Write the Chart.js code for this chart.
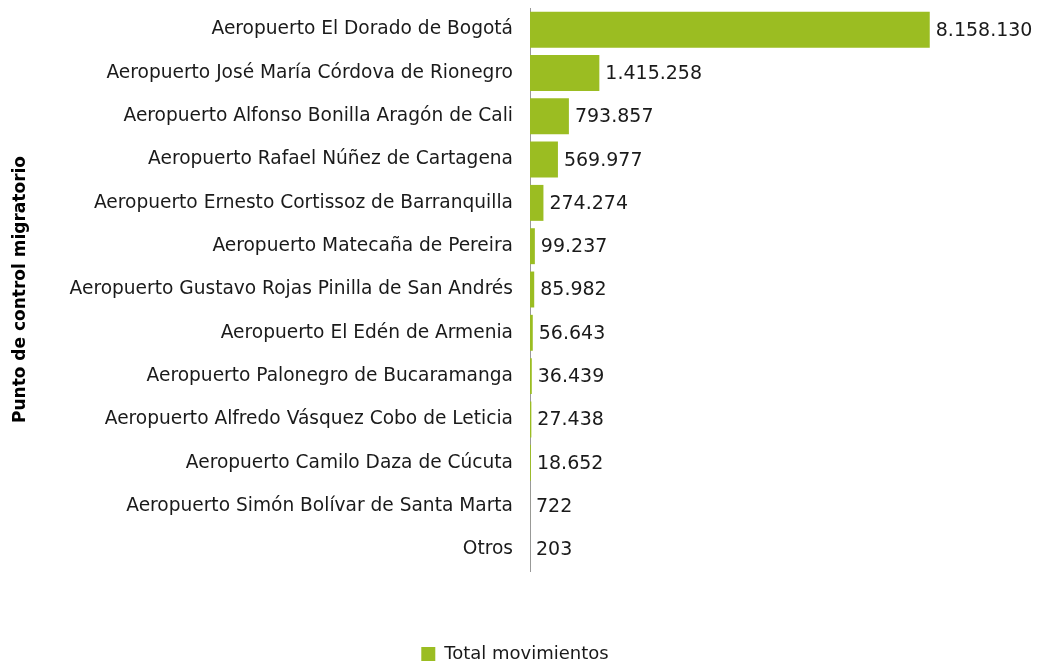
<!DOCTYPE html>
<html>
<head>
<meta charset="utf-8">
<script src="https://cdn.jsdelivr.net/npm/chart.js@4/dist/chart.umd.min.js"></script>
<style>
  html, body { margin: 0; padding: 0; background: #fff; }
  #wrap { width: 1041px; height: 663px; }
</style>
</head>
<body>
<div id="wrap"><canvas id="grafico"></canvas></div>
<script>
// puntos de control y movimientos
var puntos = [
  "Aeropuerto El Dorado de Bogotá",
  "Aeropuerto José María Córdova de Rionegro",
  "Aeropuerto Alfonso Bonilla Aragón de Cali",
  "Aeropuerto Rafael Núñez de Cartagena",
  "Aeropuerto Ernesto Cortissoz de Barranquilla",
  "Aeropuerto Matecaña de Pereira",
  "Aeropuerto Gustavo Rojas Pinilla de San Andrés",
  "Aeropuerto El Edén de Armenia",
  "Aeropuerto Palonegro de Bucaramanga",
  "Aeropuerto Alfredo Vásquez Cobo de Leticia",
  "Aeropuerto Camilo Daza de Cúcuta",
  "Aeropuerto Simón Bolívar de Santa Marta",
  "Otros"
];
var movimientos = [8158130, 1415258, 793857, 569977, 274274, 99237, 85982, 56643, 36439, 27438, 18652, 722, 203];
var serie = "Total movimientos";
var tituloEje = "Punto de control migratorio";

var fuente = "'DejaVu Sans', sans-serif";
var verde = "#9bbd22";

function miles(n) {
  return String(n).replace(/\B(?=(\d{3})+(?!\d))/g, ".");
}

// etiquetas de valor al final de cada barra
var etiquetas = {
  id: "etiquetas",
  afterLayout: function(chart) {
    // bajar un poco la leyenda
    chart.legend.top += 10;
    chart.legend.bottom += 10;
  },
  afterDatasetsDraw: function(chart) {
    var ctx = chart.ctx;
    var meta = chart.getDatasetMeta(0);
    ctx.save();
    ctx.font = "19px " + fuente;
    ctx.fillStyle = "#1a1a1a";
    ctx.textAlign = "left";
    ctx.textBaseline = "middle";
    meta.data.forEach(function(bar, i) {
      ctx.fillText(miles(movimientos[i]), bar.x + 6, bar.y + 1);
    });
    ctx.restore();
  }
};

var ctx = document.getElementById("grafico").getContext("2d");
new Chart(ctx, {
  type: "bar",
  data: {
    labels: puntos,
    datasets: [{
      label: serie,
      data: movimientos,
      backgroundColor: verde,
      borderWidth: 0,
      barPercentage: 0.83,
      categoryPercentage: 1
    }]
  },
  options: {
    indexAxis: "y",
    responsive: true,
    maintainAspectRatio: false,
    animation: false,
    layout: { padding: { top: 8, right: 21, left: 10, bottom: 0 } },
    scales: {
      x: {
        min: 0,
        max: 10000000,
        grid: { display: false, drawTicks: false },
        border: { display: false },
        ticks: { display: false },
        afterFit: function(s) { s.height = 64; }
      },
      y: {
        grid: { display: false, drawTicks: false },
        border: { display: true, color: "#999999", width: 1 },
        ticks: { color: "#1a1a1a", font: { family: fuente, size: 18.6 }, padding: 17 },
        title: {
          display: true,
          text: tituloEje,
          color: "#000",
          font: { family: fuente, size: 17, weight: "bold" },
          padding: 0
        },
        afterFit: function(s) {
          s.width = 520;
          s.paddingTop = 0;
          s.paddingBottom = 0;
        }
      }
    },
    plugins: {
      legend: {
        position: "bottom",
        labels: {
          color: "#1a1a1a",
          font: { family: fuente, size: 18 },
          boxWidth: 14,
          boxHeight: 14,
          padding: 0
        }
      },
      tooltip: { enabled: false }
    }
  },
  plugins: [etiquetas]
});
</script>
</body>
</html>
